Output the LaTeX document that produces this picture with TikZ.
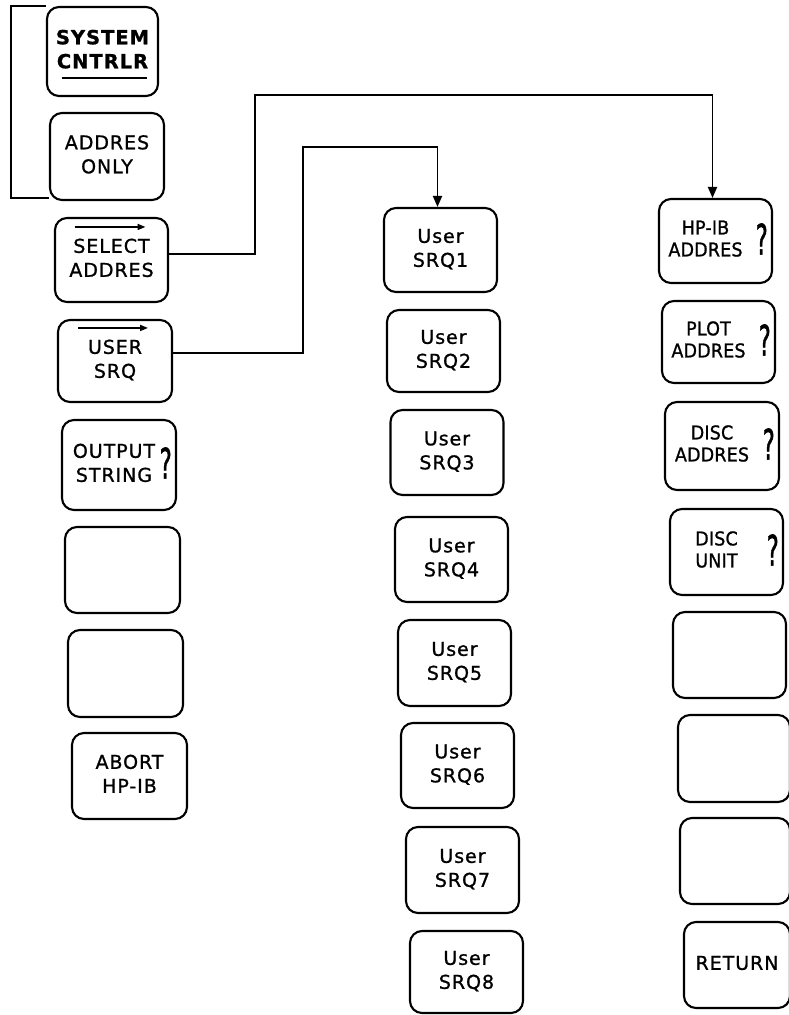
\documentclass[tikz,border=0pt]{standalone}
\usepackage{graphicx}
\usepackage{fontspec}
\setmainfont{DejaVu Sans}
\newfontfamily\kfont[LetterSpace=5, FakeBold=1]{DejaVu Sans}
\newfontfamily\rfont[LetterSpace=1, FakeStretch=0.92, FakeBold=1]{DejaVu Sans}
\newfontfamily\qfont[FakeBold=1.5]{DejaVu Sans}
\usetikzlibrary{arrows.meta}
\newcommand\kt[1]{\begin{tabular}{@{}c@{}}#1\end{tabular}}
\newcommand\qm{\scalebox{0.55}[1]{\qfont\fontsize{42}{42}\selectfont ?}}
\tikzset{
  kbox/.style={draw, line width=2.1pt, rounded corners=12pt, minimum width=113pt,
    minimum height=85pt, inner sep=0pt, font=\kfont\fontsize{19}{24}\selectfont},
  rbox/.style={kbox, font=\rfont\fontsize{19}{22}\selectfont},
  qbox/.style={label={[qlab]east:\qm}},
  qlab/.style={inner sep=0pt, anchor=east, xshift=-5pt, yshift=2pt},
  link/.style={line width=1.9pt},
  tip/.style={-{Triangle[length=11pt,width=9pt]}},
  ovl/.style={line width=1.7pt, -{Triangle[length=8pt,width=6pt]}}
}
\begin{document}
\begin{tikzpicture}[x=1pt,y=-1pt]
\fill[white] (0,0) rectangle (789,1015);
\useasboundingbox (0,0) rectangle (789,1015);
% left column
\node[kbox, font=\kfont\bfseries\fontsize{19.5}{24}\selectfont, minimum width=111pt, minimum height=89pt] (sys) at (102.5,51.5) {\kt{SYSTEM\\CNTRLR}\rule[-8pt]{0pt}{8pt}};
\draw[line width=2.4pt] ([shift={(-41,26.5)}]sys.center) -- ([shift={(44,26.5)}]sys.center);
\node[kbox, minimum width=114pt, minimum height=87pt] (addr) at (107,156.5) {\kt{ADDRES\\ONLY}};
\node[kbox, minimum height=84pt] (sel) at (111.5,260) {\kt{SELECT\\ADDRES}};
\draw[ovl] ([shift={(-37,10)}]sel.north) -- ([shift={(34,10)}]sel.north);
\node[kbox, minimum width=114pt, minimum height=82pt] (usr) at (115,361) {\kt{USER\\SRQ}};
\draw[ovl] ([shift={(-37,9)}]usr.north) -- ([shift={(33,9)}]usr.north);
\node[kbox, qbox, qlab/.append style={xshift=-3pt}, minimum width=114pt, minimum height=90pt] (out) at (119,465) {\kt{OUTPUT\\STRING}\kern10pt};
\node[kbox, minimum width=115pt, minimum height=86pt] (b1) at (122.5,570) {};
\node[kbox, minimum width=115pt, minimum height=87pt] (b2) at (125.5,673.5) {};
\node[kbox, minimum width=115pt, minimum height=86pt] (abort) at (129.5,776) {\kt{ABORT\\HP-IB}};
% bracket
\coordinate (bk) at (11,198);
\draw[link] (sys.north west) -| (bk) -- (addr.west |- bk);
% middle column
\node[kbox, minimum height=84pt] (q1) at (440.5,250) {\kt{User\\SRQ1}};
\node[kbox, minimum height=82pt] (q2) at (443.5,351) {\kt{User\\SRQ2}};
\node[kbox, minimum height=85pt] (q3) at (447,452.5) {\kt{User\\SRQ3}};
\node[kbox, minimum height=85pt] (q4) at (451.5,559.5) {\kt{User\\SRQ4}};
\node[kbox, minimum height=86pt] (q5) at (454.5,663) {\kt{User\\SRQ5}};
\node[kbox, minimum height=85pt] (q6) at (457.5,765.5) {\kt{User\\SRQ6}};
\node[kbox, minimum height=86pt] (q7) at (462.5,870) {\kt{User\\SRQ7}};
\node[kbox, minimum height=82pt] (q8) at (466.5,972) {\kt{User\\SRQ8}};
% right column
\node[rbox, qbox, minimum height=84pt] (r1) at (715.5,241) {\kt{HP-IB\\ADDRES}\kern20pt};
\node[rbox, qbox, minimum height=82pt] (r2) at (718.5,342) {\kt{PLOT\\ADDRES}\kern20pt};
\node[rbox, qbox, minimum width=114pt, minimum height=88pt] (r3) at (722,446) {\kt{DISC\\ADDRES}\kern20pt};
\node[rbox, qbox, minimum height=86pt] (r4) at (726.5,552) {\kt{DISC\\UNIT}\kern20pt};
\node[rbox, minimum height=86pt] (r5) at (729.5,655) {};
\node[rbox, minimum width=112pt, minimum height=87pt] (r6) at (734,758.5) {};
\node[rbox, minimum width=110pt, minimum height=86pt] (r7) at (735,861) {};
\node[kbox, minimum width=106pt, minimum height=86pt] (r8) at (737,965) {\kt{RETURN}};
% connectors
\coordinate (t1) at (255,95);
\coordinate (t2) at (303,147);
\draw[link, tip] ([yshift=6pt]sel.east) -| (t1) -| ([xshift=-3pt]r1.north);
\draw[link, tip] ([yshift=8pt]usr.east) -| (t2) -| ([xshift=-3pt]q1.north);
\end{tikzpicture}
\end{document}
